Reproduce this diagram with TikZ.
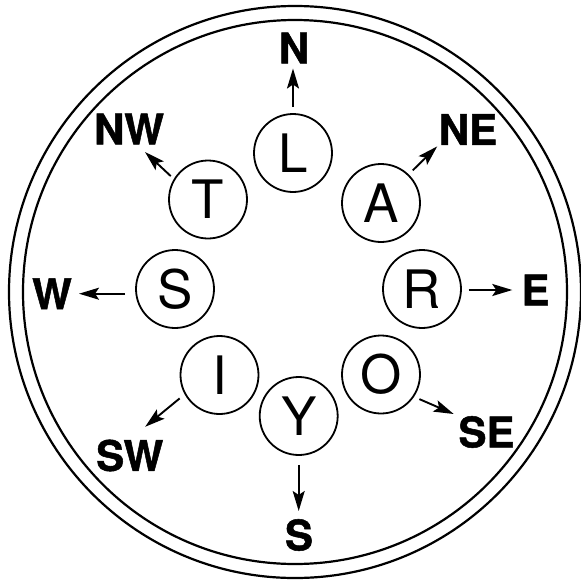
\documentclass[tikz,border=0pt]{standalone}
\usepackage{fontspec}
\setmainfont{TeX Gyre Heros}
\newfontfamily\heavyfont[BoldFeatures={FakeBold=1.2}]{TeX Gyre Heros}
\usetikzlibrary{arrows.meta,calc}
\tikzset{
  letter/.style={circle,draw,line width=1.8pt,minimum size=78pt,inner sep=0pt,font=\fontsize{53}{53}\selectfont},
  dirlabel/.style={inner sep=0pt,font=\heavyfont\bfseries\fontsize{42}{42}\selectfont},
  arr/.style={line width=1.9pt,-{Stealth[length=20pt,width=12pt,inset=4pt]}},
  rim/.style={line width=2.2pt}
}
\begin{document}
\begin{tikzpicture}[x=1pt,y=-1pt]
\useasboundingbox (0,0) rectangle (581,582);
% rims
\draw[rim] (295,292) circle[radius=286];
\draw[rim] (295,292) circle[radius=272];
% letter circles
\node[letter] (L) at (293,153) {L};
\node[letter] (A) at (381,203) {A};
\node[letter] (R) at (422,289) {R};
\node[letter] (O) at (381,374.5) {O};
\node[letter] (Y) at (298.7,416) {Y};
\node[letter] (I) at (219.5,375) {I};
\node[letter] (S) at (175,289) {S};
\node[letter] (T) at (208,199.5) {T};
% direction labels
\node[dirlabel] (N) at (294,48) {N};
\node[dirlabel] (NE) at (468,129.5) {NE};
\node[dirlabel] (E) at (535.5,290) {E};
\node[dirlabel] (SE) at (486.5,432) {SE};
\node[dirlabel] (Sdir) at (299,535) {S};
\node[dirlabel] (SW) at (129.7,455.5) {SW};
\node[dirlabel] (W) at (52,293.7) {W};
\node[dirlabel] (NW) at (129,129) {NW};
% arrows
\draw[arr,shorten <=6pt,shorten >=5pt] (L.north) -- (L.north |- N.south);
\draw[arr,shorten <=5.6pt,shorten >=2pt] (A.46) -- (NE.south west);
\draw[arr,shorten <=6.6pt,shorten >=9pt] (R.east |- E.west) -- (E.west);
\draw[arr,shorten <=5.8pt,shorten >=5pt] (O.-34) -- (SE.north west);
\draw[arr,shorten <=9pt,shorten >=8pt] (Y.south) -- (Y.south |- Sdir.north);
\draw[arr,shorten <=6.4pt,shorten >=20pt] (I.209) -- (SW.north);
\draw[arr,shorten <=10pt,shorten >=7pt] (S.west |- W.east) -- (W.east);
\draw[arr,shorten <=4.2pt,shorten >=11pt] (T.149.7) -- ($(NW.south)+(8,0)$);
\end{tikzpicture}
\end{document}
